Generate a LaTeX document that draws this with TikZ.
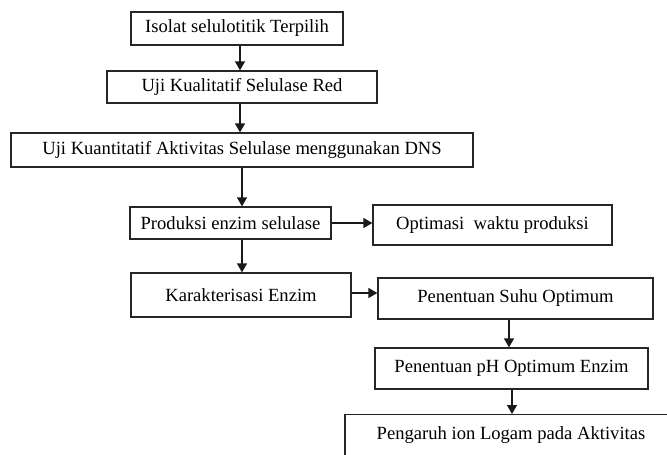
\documentclass[tikz,border=0pt]{standalone}
\usepackage{fontspec}
\setmainfont{Liberation Serif}
\usetikzlibrary{arrows.meta}
\begin{document}
\begin{tikzpicture}[x=1pt,y=-1pt,
  box/.style={draw=black!85,line width=1.3pt,rectangle,inner sep=0pt,
    font=\fontsize{18.6}{21}\selectfont,text=black},
  arr/.style={line width=1.3pt,draw=black!90,-{Triangle[length=9pt,width=10pt]}}]
\clip (0,0) rectangle (667,455);
\fill[white] (0,0) rectangle (667,455);
\node[box,minimum width=212pt,minimum height=33pt] (n1) at (237,28.5) {Isolat selulotitik Terpilih};
\node[box,minimum width=270pt,minimum height=32pt] (n2) at (242,87) {Uji Kualitatif Selulase Red};
\node[box,minimum width=462pt,minimum height=34pt] (n3) at (242,150) {Uji Kuantitatif Aktivitas Selulase menggunakan DNS};
\node[box,minimum width=201pt,minimum height=32pt] (n4) at (230.5,223) {Produksi enzim selulase};
\node[box,minimum width=239pt,minimum height=40pt] (n5) at (492.5,225) {Optimasi~ waktu produksi};
\node[box,minimum width=220pt,minimum height=44pt] (n6) at (241,295) {Karakterisasi Enzim};
\node[box,minimum width=275pt,minimum height=41pt] (n7) at (515.5,298.5) {Penentuan Suhu Optimum};
\node[box,minimum width=273pt,minimum height=41pt] (n8) at (511.5,368.5) {Penentuan pH Optimum Enzim};
\node[box,anchor=north,minimum width=332pt,text height=13pt,text depth=40pt,inner ysep=12pt] (n9) at (511,414) {Pengaruh ion Logam pada Aktivitas};
\coordinate (xa) at (240,0);
\coordinate (xb) at (242,0);
\coordinate (xc) at (509,0);
\coordinate (xd) at (512,0);
\coordinate (ya) at (0,223);
\coordinate (yb) at (0,293);
\draw[arr] (n1.south -| xa) -- (n2.north -| xa);
\draw[arr] (n2.south -| xa) -- (n3.north -| xa);
\draw[arr] (n3.south -| xb) -- (n4.north -| xb);
\draw[arr] (n4.east |- ya) -- (n5.west |- ya);
\draw[arr] (n4.south -| xb) -- (n6.north -| xb);
\draw[arr] (n6.east |- yb) -- (n7.west |- yb);
\draw[arr] (n7.south -| xc) -- (n8.north -| xc);
\draw[arr] (n8.south -| xd) -- (n9.north -| xd);
\end{tikzpicture}
\end{document}
